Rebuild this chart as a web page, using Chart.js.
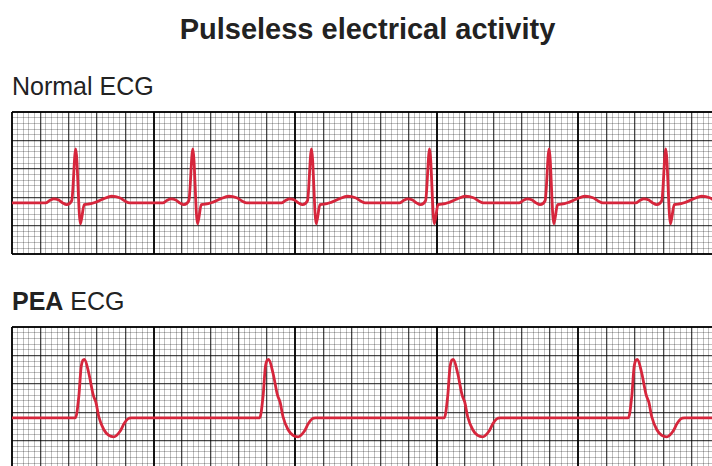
<!DOCTYPE html>
<html>
<head>
<meta charset="utf-8">
<script src="https://cdn.jsdelivr.net/npm/chart.js@4/dist/chart.umd.min.js"></script>
<style>
html,body{margin:0;padding:0;width:712px;height:466px;overflow:hidden;background:#fff;}
.t{position:absolute;font-family:"Liberation Sans",Arial,sans-serif;color:#222;white-space:nowrap;line-height:1;}
#title{left:0;width:735px;text-align:center;top:15px;font-size:29px;font-weight:bold;}
#lab1{left:12px;top:74px;font-size:25px;}
#lab2{left:12px;top:289px;font-size:25px;}
canvas{position:absolute;}
#c1{left:10px;top:110px;}
#c2{left:10px;top:325px;}
</style>
</head>
<body>
<div class="t" id="title">Pulseless electrical activity</div>
<div class="t" id="lab1">Normal ECG</div>
<div class="t" id="lab2"><b>PEA</b> ECG</div>
<canvas id="c1" width="710" height="146"></canvas>
<canvas id="c2" width="710" height="146"></canvas>
<script>
// ---- data (time in seconds, voltage in mV) ----
const X_MAX = 5.0;          // seconds shown across the strip
const Y_MIN = -0.9;         // mV
const Y_MAX = 1.6;          // mV
const X_STEP = 0.04;        // small box: 0.04 s
const Y_STEP = 0.1;         // small box: 0.1 mV

// Normal ECG: R-peak times and one PQRST complex relative to its R peak
const normalRTimes   = [0.450, 1.277, 2.115, 2.949, 3.793, 4.617];
const normalOffsets  = [-0.212, -0.184, -0.155, -0.120, -0.092, -0.064, -0.028, 0, 0.033, 0.060, 0.090, 0.139, 0.195, 0.254, 0.310, 0.350, 0.380];
const normalVolts    = [0, 0.04, 0.07, 0.05, 0, -0.03, 0.04, 0.95, -0.37, -0.03, -0.02, 0.01, 0.07, 0.117, 0.09, 0.03, 0];

// PEA ECG: peak times and one wide complex relative to its peak
const peaPeakTimes   = [0.512, 1.813, 3.117, 4.417];
const peaOffsets     = [-0.085, -0.064, -0.040, -0.023, 0, 0.030, 0.062, 0.080, 0.101, 0.136, 0.172, 0.207, 0.250, 0.280, 0.305, 0.332];
const peaVolts       = [0, 0, 0.38, 0.91, 1.03, 0.79, 0.40, 0.28, 0.02, -0.205, -0.31, -0.335, -0.24, -0.10, -0.02, 0];

const RED = '#d6263c';

function buildSeries(times, offs, volts) {
  const pts = [{x: 0, y: 0}];
  times.forEach(t => {
    offs.forEach((o, i) => {
      const x = t + o;
      if (x > 0) pts.push({x: +x.toFixed(4), y: volts[i]});
    });
  });
  if (pts[pts.length - 1].x < X_MAX) pts.push({x: X_MAX, y: 0});
  return pts;
}

function gridColor(ctx) {
  if (ctx.index % 25 === 0) return 'rgba(0,0,0,0.92)';
  if (ctx.index % 5 === 0) return 'rgba(0,0,0,0.72)';
  return 'rgba(0,0,0,0.25)';
}
function gridWidth(ctx) {
  if (ctx.index % 25 === 0) return 2;
  if (ctx.index % 5 === 0) return 1.3;
  return 1;
}
function makeTicks(min, max, step) {
  const n = Math.round((max - min) / step);
  const arr = [];
  for (let i = 0; i <= n; i++) arr.push({value: +(min + i * step).toFixed(4)});
  return arr;
}

function makeChart(id, pts) {
  return new Chart(document.getElementById(id), {
    type: 'line',
    data: {datasets: [{
      data: pts,
      borderColor: RED,
      borderWidth: 2.8,
      pointRadius: 0,
      fill: false,
      cubicInterpolationMode: 'monotone'
    }]},
    options: {
      responsive: false,
      animation: false,
      events: [],
      layout: {padding: {left: 2, top: 2, right: 0, bottom: 2}},
      plugins: {legend: {display: false}, tooltip: {enabled: false}, title: {display: false}},
      scales: {
        x: {
          type: 'linear', min: 0, max: X_MAX,
          ticks: {display: false},
          grid: {drawTicks: false, color: gridColor, lineWidth: gridWidth},
          border: {display: false},
          afterBuildTicks: s => { s.ticks = makeTicks(0, X_MAX, X_STEP); }
        },
        y: {
          type: 'linear', min: Y_MIN, max: Y_MAX,
          ticks: {display: false},
          grid: {drawTicks: false, color: gridColor, lineWidth: gridWidth},
          border: {display: false},
          afterBuildTicks: s => { s.ticks = makeTicks(Y_MIN, Y_MAX, Y_STEP); }
        }
      }
    }
  });
}

makeChart('c1', buildSeries(normalRTimes, normalOffsets, normalVolts));
makeChart('c2', buildSeries(peaPeakTimes, peaOffsets, peaVolts));
</script>
</body>
</html>
